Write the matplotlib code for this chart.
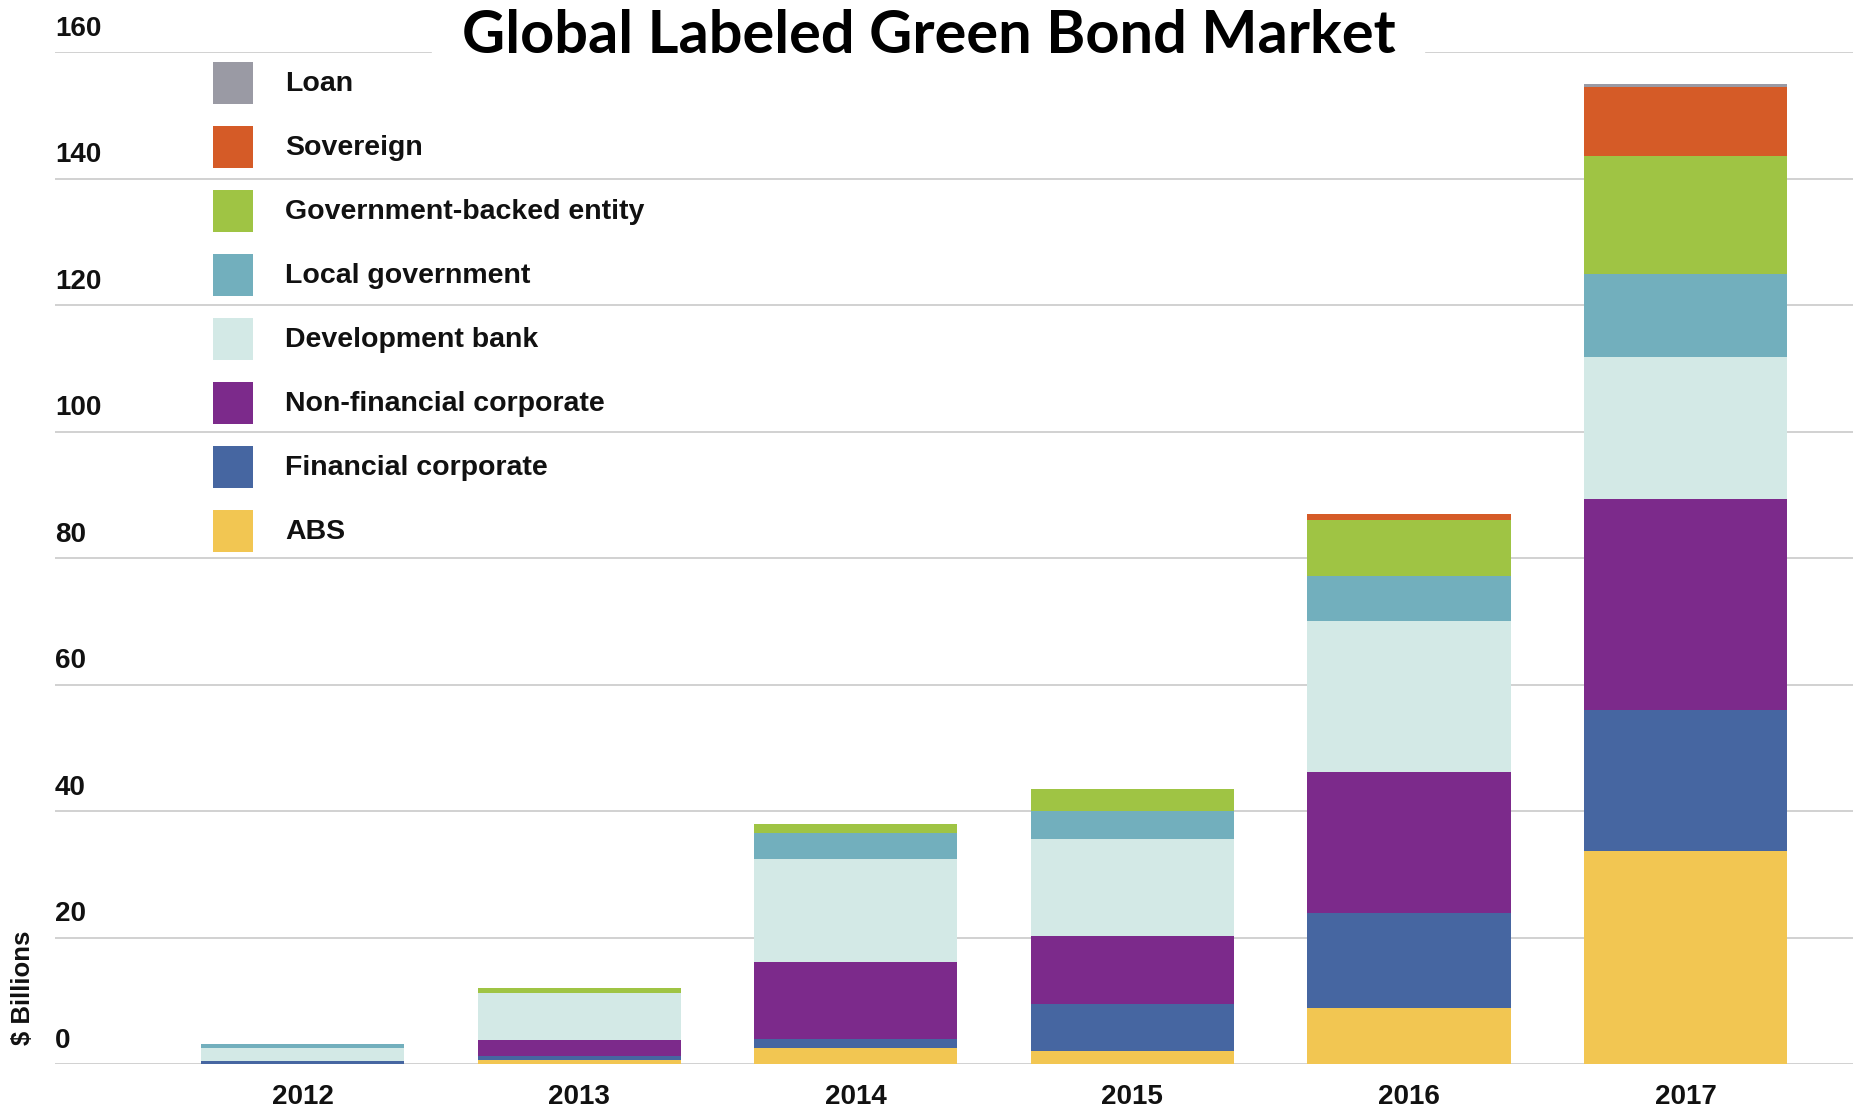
import matplotlib
matplotlib.use("Agg")
import matplotlib.pyplot as plt
from matplotlib.patches import Rectangle

# Green bond issuance by issuer type, $ billions
years = ["2012", "2013", "2014", "2015", "2016", "2017"]
abs_bonds = [0.0, 0.6, 2.5, 2.1, 8.8, 33.6]
financial_corp = [0.4, 0.7, 1.4, 7.4, 15.0, 22.3]
non_financial_corp = [0.1, 2.5, 12.3, 10.7, 22.4, 33.4]
development_bank = [2.0, 7.4, 16.2, 15.4, 23.9, 22.5]
local_government = [0.7, 0.0, 4.1, 4.4, 7.1, 13.1]
government_backed = [0.0, 0.8, 1.4, 3.5, 8.8, 18.6]
sovereign = [0.0, 0.0, 0.0, 0.0, 0.9, 10.9]
loan = [0.0, 0.0, 0.0, 0.0, 0.0, 0.5]

# stacking order, bottom to top
series = [
    ("ABS", abs_bonds, "#f2c652"),
    ("Financial corporate", financial_corp, "#4666a1"),
    ("Non-financial corporate", non_financial_corp, "#7c2a8b"),
    ("Development bank", development_bank, "#d3e9e6"),
    ("Local government", local_government, "#72afbd"),
    ("Government-backed entity", government_backed, "#9fc444"),
    ("Sovereign", sovereign, "#d55b27"),
    ("Loan", loan, "#9a9aa4"),
]
y_ticks = [0, 20, 40, 60, 80, 100, 120, 140, 160]

W, H = 1853, 1109
fig = plt.figure(figsize=(W / 100, H / 100), dpi=100)
ax = fig.add_axes([55 / W, 45 / H, (W - 55) / W, (1064 - 52) / H])

label_font = dict(family=["Liberation Sans", "DejaVu Sans"], weight="bold")
grid_color = "#c9c9c9"

# gridlines; the top one is broken by the title
for v in y_ticks[:-1]:
    ax.axhline(v, color=grid_color, lw=1.2, zorder=0)
ax.axhline(160, xmin=0, xmax=(431 - 55) / (W - 55), color=grid_color, lw=1.2, zorder=0)
ax.axhline(160, xmin=(1426 - 55) / (W - 55), xmax=1, color=grid_color, lw=1.2, zorder=0)

x = list(range(len(years)))
bottom = [0.0] * len(years)
for name, vals, color in series:
    ax.bar(x, vals, bottom=bottom, width=0.735, color=color, edgecolor="none", zorder=2)
    bottom = [b + v for b, v in zip(bottom, vals)]

ax.set_xlim(-0.895, 5.605)
ax.set_ylim(0, 160)
ax.axis("off")

# tick labels sit above their gridlines
ytrans = ax.get_yaxis_transform()
for v in y_ticks:
    ax.text(0.0, v + 1.6, str(v), transform=ytrans, ha="left", va="bottom",
            fontsize=20, color="#111111", **label_font)

for xi, yr in zip(x, years):
    ax.text(xi, -5.2, yr, ha="center", va="center", fontsize=20,
            color="#111111", clip_on=False, **label_font)

fig.text(23 / W, 1 - 988 / H, "$ Billions", rotation=90, ha="center", va="center",
         fontsize=18.5, color="#111111", **label_font)

# legend, top entry first
for i, (name, vals, color) in enumerate(reversed(series)):
    yc = 82.7 + i * 64.0
    fig.add_artist(Rectangle((213 / W, 1 - (yc + 21) / H), 40 / W, 42 / H,
                             transform=fig.transFigure, color=color, lw=0))
    fig.text(285 / W, 1 - (yc + 1) / H, name, ha="left", va="center",
             fontsize=20.5, color="#111111", **label_font)

fig.text(929 / W, 1 - 36 / H, "Global Labeled Green Bond Market", ha="center",
         va="center", fontsize=42.8, weight="bold", family=["Lato", "DejaVu Sans"],
         color="black")

fig.savefig("out.png", dpi=100, facecolor="white")
